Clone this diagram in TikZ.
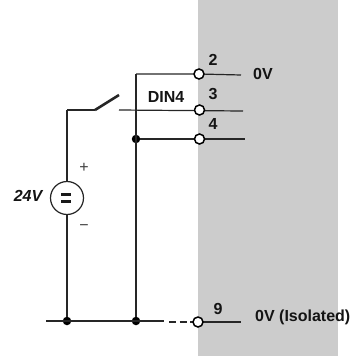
\documentclass[tikz,border=0pt]{standalone}
\usepackage{fontspec}
\setmainfont{Liberation Sans}
\begin{document}
\begin{tikzpicture}[x=1pt,y=-1pt,
  wire/.style={draw=black!85,line width=1.2pt},
  term/.style={circle,draw=black,line width=1.5pt,fill=white,minimum size=10pt,inner sep=0pt},
  junction/.style={circle,fill=black,minimum size=8.5pt,inner sep=0pt},
  lab/.style={font=\bfseries\fontsize{16}{18}\selectfont,text=black!92,inner sep=0pt},
  sign/.style={font=\fontsize{16}{18}\selectfont,text=black!75,inner sep=0pt}]
\useasboundingbox (0,0) rectangle (352,356);
\fill[black!20] (198,0) rectangle (338,356);
% named points
\coordinate (e2) at (241,75);
\coordinate (e3) at (243,111);
\coordinate (e4) at (245,139);
\coordinate (e9) at (241,322);
\coordinate (top) at (136,74);
\coordinate (sw3) at (119,110);
\coordinate (swa) at (95,110);
\coordinate (swb) at (119,95);
\coordinate (corner) at (67,110);
\coordinate (left) at (46,321);
\coordinate (busEnd) at (164,321);
\coordinate (dashA) at (169,322);
\node[circle,draw=black!85,line width=1.2pt,minimum size=33pt,inner sep=0pt] (src) at (67,198) {};
\node[junction] (j4) at (136,139) {};
\node[junction] (ja) at (67,321) {};
\node[junction] (jb) at (136,321) {};
% wires
\draw[wire] (top) -- (jb);
\draw[wire] (top) -- (199,74) -- (e2);
\draw[wire] (sw3) -- (e3);
\draw[wire] (j4) -- (e4);
\draw[wire] (corner) -- (swa);
\draw[line width=2.6pt,black!85] (swa) -- (swb);
\draw[wire] (corner) -- (src);
\draw[wire] (src) -- (ja);
\draw[wire] (left) -- (busEnd);
\draw[wire,dash pattern=on 7pt off 3.5pt] (dashA) -- (198,322);
\draw[wire] (198,322) -- (e9);
\node[term] (t2) at (199,74) {};
\node[term] (t3) at (199.5,110) {};
\node[term] (t4) at (199.5,139) {};
\node[term] (t9) at (198,322) {};
% source symbol
\draw[line width=2.4pt,black!90] (61,194.5) -- (71,194.5) (61,201.5) -- (71,201.5);
\node[sign] at (84,168) {+};
\node[sign] at (84,228) {−};
\node[lab,font=\bfseries\itshape\fontsize{16}{18}\selectfont] at (28,196) {24V};
% labels
\node[lab] at (213,60) {2};
\node[lab] at (213,94) {3};
\node[lab] at (213,124) {4};
\node[lab] at (218,309) {9};
\node[lab] at (263,74) {0V};
\node[lab] at (166,97) {DIN4};
\node[lab,anchor=west] at (255,317) {0V (Isolated)};
\end{tikzpicture}
\end{document}
